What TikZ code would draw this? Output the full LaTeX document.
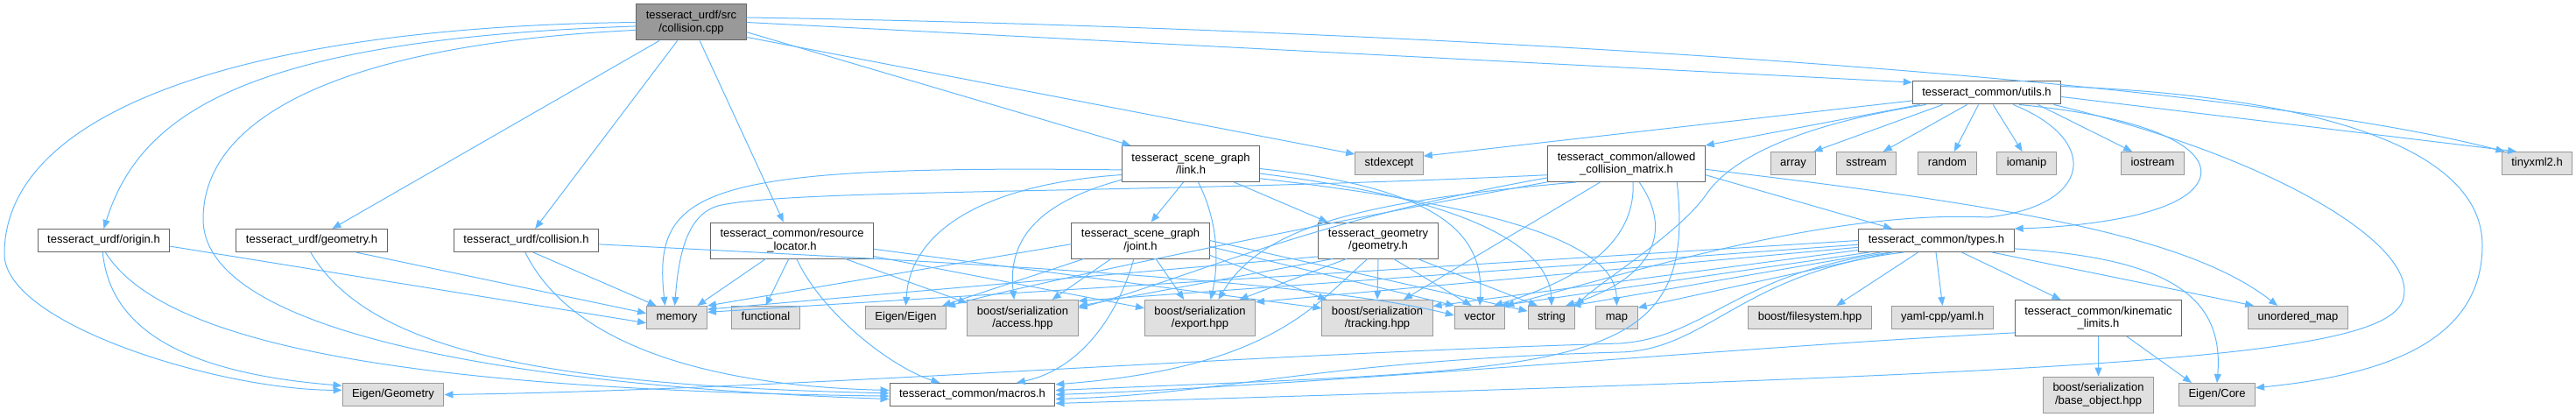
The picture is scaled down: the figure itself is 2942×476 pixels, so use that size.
\documentclass[tikz,border=0pt]{standalone}
\usepackage{fontspec}
\setmainfont{Liberation Sans}
\usepackage{xcolor}
\usepackage{tikz}
\usetikzlibrary{arrows.meta}

\definecolor{edgeblue}{HTML}{63B8FF}
\definecolor{sysfill}{HTML}{E0E0E0}
\definecolor{sysline}{HTML}{999999}
\definecolor{hdrline}{HTML}{666666}
\definecolor{srcfill}{HTML}{999999}

\begin{document}
\begin{tikzpicture}[x=1pt, y=-1pt,
    box/.style={draw=hdrline, fill=white, line width=1pt, inner xsep=11pt, inner ysep=2pt,
      align=center, font=\fontsize{13}{14.5}\selectfont},
    hdr/.style={box, minimum height=26pt, text height=9.5pt, text depth=2.8pt},
    hdrtwo/.style={box, minimum height=41pt},
    sys/.style={hdr, draw=sysline, fill=sysfill},
    systwo/.style={hdrtwo, draw=sysline, fill=sysfill},
    srcfile/.style={hdrtwo, fill=srcfill},
    incl/.style={draw=edgeblue, line width=1pt, -{Triangle[length=10pt,width=8pt]}}]
    \useasboundingbox (0,0) rectangle (2942,476);

    % the file itself
    \node[srcfile] (main) at (789.5,25.5) {tesseract\_urdf/src\\/collision.cpp};
    \node[hdr] (utils) at (2269,106) {tesseract\_common/utils.h};

    % third row
    \node[hdrtwo] (link) at (1360,187) {tesseract\_scene\_graph\\/link.h};
    \node[sys] (stdexc) at (1586.5,186.5) {stdexcept};
    \node[hdrtwo] (acm) at (1857.5,187) {tesseract\_common/allowed\\\_collision\_matrix.h};
    \node[sys] (array) at (2048,186.5) {array};
    \node[sys] (sstream) at (2131.5,186.5) {sstream};
    \node[sys] (random) at (2224,186.5) {random};
    \node[sys] (iomanip) at (2314.5,186.5) {iomanip};
    \node[sys] (iostream) at (2458.5,186.5) {iostream};
    \node[sys] (tinyxml) at (2897.5,186.5) {tinyxml2.h};

    % fourth row
    \node[hdr] (origin) at (118.5,274.5) {tesseract\_urdf/origin.h};
    \node[hdr] (ugeom) at (356,274.5) {tesseract\_urdf/geometry.h};
    \node[hdr] (ucoll) at (601,274.5) {tesseract\_urdf/collision.h};
    \node[hdrtwo] (resloc) at (904.5,274.5) {tesseract\_common/resource\\\_locator.h};
    \node[hdrtwo] (joint) at (1302.5,274.5) {tesseract\_scene\_graph\\/joint.h};
    \node[hdrtwo] (tgeom) at (1574,274.5) {tesseract\_geometry\\/geometry.h};
    \node[hdr] (types) at (2211.5,274.5) {tesseract\_common/types.h};

    % fifth row
    \node[sys] (memory) at (773,362.5) {memory};
    \node[sys] (functional) at (874.5,362.5) {functional};
    \node[sys] (eigen) at (1034.5,362.5) {Eigen/Eigen};
    \node[systwo] (access) at (1168,363) {boost/serialization\\/access.hpp};
    \node[systwo] (export) at (1370.5,363) {boost/serialization\\/export.hpp};
    \node[systwo] (tracking) at (1573,363) {boost/serialization\\/tracking.hpp};
    \node[sys] (vector) at (1690,362.5) {vector};
    \node[sys] (string) at (1772,362.5) {string};
    \node[sys] (map) at (1846.5,362.5) {map};
    \node[sys] (fsys) at (2067,362.5) {boost/filesystem.hpp};
    \node[sys] (yaml) at (2218.5,362.5) {yaml-cpp/yaml.h};
    \node[hdrtwo] (kinlim) at (2396.5,363) {tesseract\_common/kinematic\\\_limits.h};
    \node[sys] (umap) at (2624.5,362.5) {unordered\_map};

    % bottom row
    \node[sys] (eigengeo) at (449,450.5) {Eigen/Geometry};
    \node[hdr] (macros) at (1110.5,450.5) {tesseract\_common/macros.h};
    \node[systwo] (baseobj) at (2396.5,450.5) {boost/serialization\\/base\_object.hpp};
    \node[sys] (eigencore) at (2532,450.5) {Eigen/Core};

    % collision.cpp
    \draw[incl] (main.180) .. controls (300,30) and (5,120) .. (5,290) .. controls (5,370) and (250,445) .. (eigengeo.175);
    \draw[incl] (main.184) .. controls (280,45) and (160,130) .. (origin.north);
    \draw[incl] (main.188) .. controls (400,50) and (232,130) .. (232,250) .. controls (232,400) and (700,445) .. (macros.183);
    \draw[incl] (main) -- (ugeom);
    \draw[incl] (main) -- (ucoll);
    \draw[incl] (main) -- (resloc);
    \draw[incl] (main.-10) -- (link.163);
    \draw[incl] (main.-15) -- (stdexc.165);
    \draw[incl] (main.0) -- (utils.172);
    \draw[incl] (main.5) .. controls (1500,30) and (2500,80) .. (tinyxml.160);

    % urdf headers
    \draw[incl] (origin.-5) -- (memory.190);
    \draw[incl] (origin.-95) .. controls (125,370) and (200,425) .. (eigengeo.170);
    \draw[incl] (origin.-82) .. controls (190,400) and (500,445) .. (macros.181);
    \draw[incl] (ugeom.-15) -- (memory.172);
    \draw[incl] (ugeom.-95) .. controls (420,400) and (620,440) .. (macros.179);
    \draw[incl] (ucoll.-60) -- (memory.150);
    \draw[incl] (ucoll.-95) .. controls (650,390) and (800,440) .. (macros.177);
    \draw[incl] (ucoll.-3) .. controls (1100,300) and (1500,320) .. (vector.175);

    % resource locator
    \draw[incl] (resloc.-145) -- (memory.30);
    \draw[incl] (resloc.-100) -- (functional.north);
    \draw[incl] (resloc.-76) .. controls (940,360) and (1020,420) .. (macros.160);
    \draw[incl] (resloc.-19) -- (access.165);
    \draw[incl] (resloc.-11) -- (export.170);
    \draw[incl] (resloc.-6) -- (tracking.170);

    % link.h
    \draw[incl] (link.-112) -- (joint.60);
    \draw[incl] (link.-68) .. controls (1395,260) and (1390,310) .. (export.60);
    \draw[incl] (link.-23) -- (tgeom.160);
    \draw[incl] (link.185) .. controls (800,188) and (745,215) .. (memory.135);
    \draw[incl] (link.189) .. controls (1130,210) and (1040,260) .. (eigen.north);
    \draw[incl] (link.193) .. controls (1190,230) and (1150,270) .. (access.115);
    \draw[incl] (link.-4) .. controls (1650,215) and (1695,270) .. (vector.north);
    \draw[incl] (link.-8) .. controls (1700,230) and (1770,290) .. (string.north);
    \draw[incl] (link.-12) .. controls (1760,240) and (1845,290) .. (map.north);

    % joint.h
    \draw[incl] (joint.183) -- (memory.north east);
    \draw[incl] (joint.-162) -- (eigen.18);
    \draw[incl] (joint.-148) -- (access.32);
    \draw[incl] (joint.-110) .. controls (1280,350) and (1240,420) .. (macros.15);
    \draw[incl] (joint.-50) -- (export.131);
    \draw[incl] (joint.-12) -- (tracking.160);
    \draw[incl] (joint.-5) -- (vector.155);
    \draw[incl] (joint.0) -- (string.165);

    % geometry.h
    \draw[incl] (tgeom.195) -- (memory.15);
    \draw[incl] (tgeom.-158) -- (access.12);
    \draw[incl] (tgeom.-150) -- (export.25);
    \draw[incl] (tgeom.south) -- (tracking.north);
    \draw[incl] (tgeom.-50) -- (vector.125);
    \draw[incl] (tgeom.-25) -- (string.140);
    \draw[incl] (tgeom.-120) .. controls (1500,350) and (1450,420) .. (macros.7);

    % types.h
    \draw[incl] (types.-25) -- (kinlim.154);
    \draw[incl] (types.-92) -- (yaml.north);
    \draw[incl] (types.-147) -- (fsys.24);
    \draw[incl] (types.-12) -- (umap.165);
    \draw[incl] (types.-6) .. controls (2480,295) and (2540,340) .. (eigencore.north);
    \draw[incl] (types.180) -- (memory.10);
    \draw[incl] (types.183) -- (access.17);
    \draw[incl] (types.185) -- (export.16);
    \draw[incl] (types.187) -- (tracking.12);
    \draw[incl] (types.190) -- (vector.30);
    \draw[incl] (types.192) -- (string.30);
    \draw[incl] (types.195) -- (map.25);
    \draw[incl] (types.-165) .. controls (1985,310) and (1950,385) .. (1850,392) .. controls (1400,405) and (900,445) .. (eigengeo.east);
    \draw[incl] (types.-160) .. controls (1990,310) and (1950,400) .. (1850,402) .. controls (1500,412) and (1400,450) .. (macros.-3);

    % allowed_collision_matrix.h
    \draw[incl] (acm.-8) -- (types.165);
    \draw[incl] (acm.-4) .. controls (2300,235) and (2500,270) .. (umap.150);
    \draw[incl] (acm.-145) -- (tracking.35);
    \draw[incl] (acm.-70) .. controls (1868,280) and (1800,320) .. (vector.40);
    \draw[incl] (acm.-55) .. controls (1915,270) and (1880,320) .. (string.40);
    \draw[incl] (acm.-20) .. controls (1940,430) and (1800,420) .. (macros.3);
    \draw[incl] (acm.188) .. controls (1300,222) and (900,215) .. (820,235) .. controls (785,245) and (775,290) .. (memory.100);
    \draw[incl] (acm.190) .. controls (1500,250) and (1350,320) .. (access.10);
    \draw[incl] (acm.-167) .. controls (1480,260) and (1150,330) .. (eigen.15);
    \draw[incl] (acm.-160) .. controls (1550,230) and (1440,260) .. (export.45);

    % utils.h
    \draw[incl] (utils.186) -- (stdexc.12);
    \draw[incl] (utils.190) -- (acm.north east);
    \draw[incl] (utils.-165) -- (array.30);
    \draw[incl] (utils.-149) -- (sstream.35);
    \draw[incl] (utils.-125) -- (random.60);
    \draw[incl] (utils.-62) -- (iomanip.110);
    \draw[incl] (utils.-13) -- (iostream.150);
    \draw[incl] (utils.-3) -- (tinyxml.150);
    \draw[incl] (utils.-169) .. controls (2100,135) and (1990,165) .. (1950,220) .. controls (1920,265) and (1830,320) .. (string.north east);
    \draw[incl] (utils.-24) .. controls (2400,160) and (2390,235) .. (2270,248) .. controls (2100,240) and (1900,300) .. (vector.north east);
    \draw[incl] (utils.-20) .. controls (2520,140) and (2550,200) .. (2480,232) .. controls (2430,255) and (2340,260) .. (types.north east);
    \draw[incl] (utils.-10) .. controls (2600,180) and (2760,280) .. (2745,340) .. controls (2730,410) and (2400,425) .. (macros.-6);
    \draw[incl] (utils.5) .. controls (2650,110) and (2835,170) .. (2835,280) .. controls (2835,400) and (2700,430) .. (eigencore.10);

    % kinematic_limits.h
    \draw[incl] (kinlim) -- (baseobj);
    \draw[incl] (kinlim.-33) -- (eigencore.155);
    \draw[incl] (kinlim.190) .. controls (2000,395) and (1500,440) .. (macros.0);
\end{tikzpicture}
\end{document}
